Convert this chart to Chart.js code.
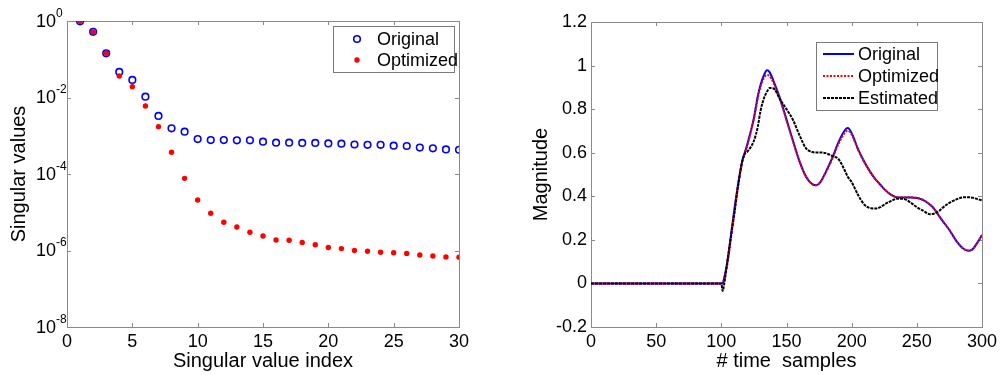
<!DOCTYPE html>
<html lang="en">
<head>
<meta charset="UTF-8">
<title>Singular values / Magnitude</title>
<script src="https://cdn.jsdelivr.net/npm/chart.js"></script>
<style>
    body { margin: 0; background: #fff; }
    .wrap { position: relative; width: 1002px; height: 375px; }
    #chart1 { position: absolute; left: 0; top: 0; }
    #chart2 { position: absolute; left: 500px; top: 0; }
</style>
</head>
<body>
<div class="wrap">
    <canvas id="chart1" width="500" height="375"></canvas>
    <canvas id="chart2" width="502" height="375"></canvas>
</div>
<script>
    // left plot: singular values
    const svIndex = [1, 2, 3, 4, 5, 6, 7, 8, 9, 10, 11, 12, 13, 14, 15, 16, 17, 18, 19, 20, 21, 22, 23, 24, 25, 26, 27, 28, 29, 30];
    const svOriginal = [0.98, 0.52, 0.143, 0.0465, 0.0288, 0.0105, 0.0033, 0.00156, 0.00128, 0.00082,
        0.00077, 0.00077, 0.00076, 0.00076, 0.0007, 0.00066, 0.00066, 0.00065, 0.00065, 0.00063,
        0.00062, 0.00059, 0.00058, 0.00058, 0.00055, 0.00054, 0.00049, 0.00047, 0.00044, 0.00043];
    const svOptimized = [0.98, 0.52, 0.143, 0.0364, 0.0192, 0.006, 0.00173, 0.00037, 7.7e-5, 2.1e-5,
        9.4e-6, 5.5e-6, 4.1e-6, 3.0e-6, 2.4e-6, 1.88e-6, 1.85e-6, 1.63e-6, 1.41e-6, 1.2e-6,
        1.12e-6, 1.0e-6, 0.96e-6, 0.9e-6, 0.87e-6, 0.84e-6, 0.76e-6, 0.72e-6, 0.68e-6, 0.67e-6];
    const svExponents = [0, -2, -4, -6, -8];

    // right plot: magnitude vs time samples
    const timeSamples = [0, 100, 101, 102, 105, 108, 110, 113, 116, 118, 120, 125, 128, 130, 133, 135, 137, 140, 145, 150,
        155, 160, 165, 170, 173, 176, 180, 185, 190, 195, 197, 200, 205, 210, 215, 218, 222, 225, 230, 235,
        240, 245, 250, 255, 260, 263, 267, 270, 275, 280, 285, 290, 293, 296, 300];
    const magOriginal = [0, 0, 0, 0.02, 0.11, 0.25, 0.34, 0.46, 0.56, 0.6, 0.64, 0.76, 0.86, 0.91, 0.96, 0.978, 0.97, 0.93, 0.85, 0.752,
        0.654, 0.56, 0.49, 0.455, 0.451, 0.465, 0.51, 0.575, 0.65, 0.705, 0.713, 0.69, 0.615, 0.555, 0.505, 0.48, 0.453, 0.433, 0.408, 0.395,
        0.394, 0.394, 0.392, 0.382, 0.362, 0.345, 0.31, 0.285, 0.245, 0.198, 0.163, 0.15, 0.158, 0.183, 0.222];
    const magOptimized = [0, 0, 0, 0.015, 0.1, 0.24, 0.33, 0.455, 0.555, 0.597, 0.635, 0.755, 0.85, 0.9, 0.945, 0.957, 0.952, 0.92, 0.845, 0.75,
        0.652, 0.56, 0.49, 0.455, 0.451, 0.465, 0.508, 0.57, 0.642, 0.693, 0.702, 0.683, 0.612, 0.553, 0.504, 0.48, 0.453, 0.433, 0.408, 0.396,
        0.396, 0.396, 0.393, 0.383, 0.362, 0.345, 0.31, 0.285, 0.245, 0.198, 0.163, 0.15, 0.158, 0.183, 0.222];
    const magEstimated = [0, 0, -0.035, -0.01, 0.12, 0.24, 0.32, 0.455, 0.56, 0.595, 0.605, 0.655, 0.72, 0.79, 0.855, 0.88, 0.897, 0.895, 0.845, 0.8,
        0.75, 0.68, 0.62, 0.603, 0.601, 0.601, 0.598, 0.585, 0.57, 0.515, 0.49, 0.465, 0.405, 0.36, 0.345, 0.344, 0.35, 0.362, 0.378, 0.389,
        0.388, 0.372, 0.35, 0.333, 0.318, 0.32, 0.332, 0.348, 0.37, 0.385, 0.395, 0.396, 0.393, 0.388, 0.381];

    const fontFamily = '"Liberation Sans", Arial, Helvetica, sans-serif';
    Chart.defaults.font.family = fontFamily;
    Chart.defaults.color = '#000';

    function points(xs, ys) {
        return xs.map(function (x, i) { return { x: x, y: ys[i] }; });
    }

    // matlab style box with inward ticks on all four sides
    const frameTicks = {
        id: 'frameTicks',
        beforeDatasetsDraw(chart) {
            const ctx = chart.ctx;
            const a = chart.chartArea;
            const x = chart.scales.x, y = chart.scales.y;
            ctx.save();
            ctx.strokeStyle = '#8a8a8a';
            ctx.lineWidth = 1;
            ctx.strokeRect(Math.round(a.left) + 0.5, Math.round(a.top) + 0.5,
                Math.round(a.right - a.left), Math.round(a.bottom - a.top));
            ctx.beginPath();
            x.ticks.forEach(function (t) {
                const px = Math.round(x.getPixelForValue(t.value)) + 0.5;
                ctx.moveTo(px, a.bottom); ctx.lineTo(px, a.bottom - 4);
                ctx.moveTo(px, a.top); ctx.lineTo(px, a.top + 4);
            });
            y.ticks.forEach(function (t) {
                const py = Math.round(y.getPixelForValue(t.value)) + 0.5;
                ctx.moveTo(a.left, py); ctx.lineTo(a.left + 4, py);
                ctx.moveTo(a.right, py); ctx.lineTo(a.right - 4, py);
            });
            ctx.stroke();
            ctx.restore();
        }
    };

    // 10^n labels for the log axis
    const expLabels = {
        id: 'expLabels',
        afterDraw(chart, args, opts) {
            const ctx = chart.ctx;
            const y = chart.scales.y;
            ctx.save();
            ctx.fillStyle = '#000';
            y.ticks.forEach(function (t) {
                const py = y.getPixelForValue(t.value);
                const e = Math.round(Math.log10(t.value));
                ctx.font = '18px ' + fontFamily;
                ctx.textAlign = 'left';
                ctx.textBaseline = 'middle';
                ctx.fillText('10', opts.x, py + 1);
                const w = ctx.measureText('10').width;
                ctx.font = '12px ' + fontFamily;
                ctx.textBaseline = 'alphabetic';
                ctx.fillText(String(e), opts.x + w, py - 4.5);
            });
            ctx.restore();
        }
    };

    const legendBox = {
        id: 'legendBox',
        afterDraw(chart, args, opts) {
            const ctx = chart.ctx;
            ctx.save();
            ctx.fillStyle = '#fff';
            ctx.fillRect(opts.x, opts.y, opts.w, opts.h);
            ctx.strokeStyle = '#7a7a7a';
            ctx.lineWidth = 1;
            ctx.strokeRect(opts.x + 0.5, opts.y + 0.5, opts.w, opts.h);
            chart.data.datasets.forEach(function (ds, i) {
                const ry = opts.rows[i];
                if (opts.kind === 'marker') {
                    ctx.beginPath();
                    ctx.arc(opts.markX, ry, ds.pointRadius, 0, Math.PI * 2);
                    if (ds.pointBorderWidth > 0) {
                        ctx.lineWidth = ds.pointBorderWidth;
                        ctx.strokeStyle = ds.pointBorderColor;
                        ctx.stroke();
                    } else {
                        ctx.fillStyle = ds.pointBackgroundColor;
                        ctx.fill();
                    }
                } else {
                    ctx.beginPath();
                    ctx.setLineDash(ds.borderDash || []);
                    ctx.lineWidth = ds.borderWidth;
                    ctx.strokeStyle = ds.borderColor;
                    ctx.moveTo(opts.lineX0, ry);
                    ctx.lineTo(opts.lineX1, ry);
                    ctx.stroke();
                    ctx.setLineDash([]);
                }
                ctx.fillStyle = '#000';
                ctx.font = '18px ' + fontFamily;
                ctx.textAlign = 'left';
                ctx.textBaseline = 'middle';
                ctx.fillText(ds.label, opts.textX, ry + 1);
            });
            ctx.restore();
        }
    };

    function chart1() {
        const data = {
            datasets: [{
                label: 'Original',
                data: points(svIndex, svOriginal),
                showLine: false,
                pointStyle: 'circle',
                pointRadius: 3.3,
                pointBorderWidth: 1.6,
                pointBorderColor: '#0000ff',
                pointBackgroundColor: 'rgba(0,0,0,0)',
                order: 2
            }, {
                label: 'Optimized',
                data: points(svIndex, svOptimized),
                showLine: false,
                pointStyle: 'circle',
                pointRadius: 2.7,
                pointBorderWidth: 0,
                pointBorderColor: '#ff0000',
                pointBackgroundColor: '#ff0000',
                order: 1
            }]
        };
        const config = {
            type: 'scatter',
            data: data,
            options: {
                responsive: false,
                animation: false,
                layout: { padding: { left: 0, top: 21, right: 41, bottom: 0 } },
                plugins: {
                    legend: { display: false },
                    tooltip: { enabled: false },
                    expLabels: { x: 36 },
                    legendBox: {
                        kind: 'marker', x: 333, y: 26, w: 121, h: 46,
                        markX: 357, textX: 377, rows: [39, 60]
                    }
                },
                scales: {
                    x: {
                        type: 'linear', min: 0, max: 30,
                        grid: { display: false, drawTicks: false },
                        border: { display: false },
                        ticks: { stepSize: 5, font: { size: 18 }, padding: 4, maxRotation: 0 },
                        title: { display: true, text: 'Singular value index', font: { size: 20 }, padding: { top: 0, bottom: 1.5 } },
                        afterFit: function (s) { s.height = 48; }
                    },
                    y: {
                        type: 'logarithmic', min: 1e-8, max: 1,
                        grid: { display: false, drawTicks: false },
                        border: { display: false },
                        ticks: { display: false },
                        afterBuildTicks: function (s) {
                            s.ticks = svExponents.map(function (e) { return { value: Math.pow(10, e) }; });
                        },
                        title: { display: true, text: 'Singular values', font: { size: 20 }, padding: { top: 7, bottom: 0 } },
                        afterFit: function (s) { s.width = 67; }
                    }
                }
            },
            plugins: [frameTicks, expLabels, legendBox]
        };
        new Chart(document.getElementById('chart1'), config);
    }

    function chart2() {
        const data = {
            datasets: [{
                label: 'Original',
                data: points(timeSamples, magOriginal),
                borderColor: '#0000ff',
                borderWidth: 2,
                pointRadius: 0,
                cubicInterpolationMode: 'monotone',
                order: 3
            }, {
                label: 'Optimized',
                data: points(timeSamples, magOptimized),
                borderColor: '#ff0000',
                borderWidth: 2,
                borderDash: [2, 1.5],
                pointRadius: 0,
                cubicInterpolationMode: 'monotone',
                order: 2
            }, {
                label: 'Estimated',
                data: points(timeSamples, magEstimated),
                borderColor: '#000000',
                borderWidth: 2,
                borderDash: [3, 1],
                pointRadius: 0,
                cubicInterpolationMode: 'monotone',
                order: 1
            }]
        };
        const config = {
            type: 'line',
            data: data,
            options: {
                responsive: false,
                animation: false,
                layout: { padding: { left: 0, top: 22, right: 20, bottom: 0 } },
                plugins: {
                    legend: { display: false },
                    tooltip: { enabled: false },
                    legendBox: {
                        kind: 'line', x: 316, y: 42, w: 121, h: 68,
                        lineX0: 323, lineX1: 354, textX: 358, rows: [54, 76, 98]
                    }
                },
                scales: {
                    x: {
                        type: 'linear', min: 0, max: 300,
                        grid: { display: false, drawTicks: false },
                        border: { display: false },
                        ticks: { stepSize: 50, font: { size: 18 }, padding: 4, maxRotation: 0 },
                        title: { display: true, text: '# time  samples', font: { size: 20 }, padding: { top: 0, bottom: 1.5 } },
                        afterFit: function (s) { s.height = 48; }
                    },
                    y: {
                        type: 'linear', min: -0.2, max: 1.2,
                        grid: { display: false, drawTicks: false },
                        border: { display: false },
                        ticks: {
                            stepSize: 0.2, font: { size: 18 }, padding: 4,
                            callback: function (v) { return String(Math.round(v * 10) / 10); }
                        },
                        title: { display: true, text: 'Magnitude', font: { size: 20 }, padding: { top: 29, bottom: 0 } },
                        afterFit: function (s) { s.width = 91; }
                    }
                }
            },
            plugins: [frameTicks, legendBox]
        };
        new Chart(document.getElementById('chart2'), config);
    }

    chart1();
    chart2();
</script>
</body>
</html>
